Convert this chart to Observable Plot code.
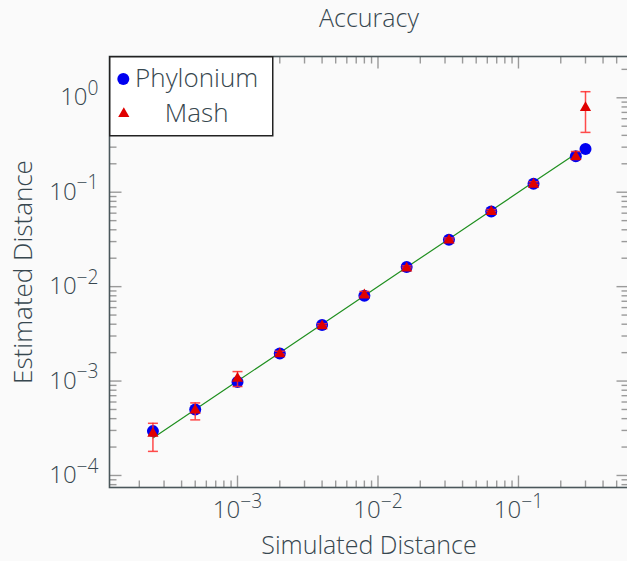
<!DOCTYPE html>
<html>
<head>
<meta charset="utf-8">
<script src="https://cdn.jsdelivr.net/npm/d3@7"></script>
<script src="https://cdn.jsdelivr.net/npm/@observablehq/plot@0.6"></script>
<style>
  html, body { margin: 0; padding: 0; background: #fafafa; overflow: hidden; }
  #wrap { position: relative; width: 627px; height: 561px; overflow: hidden; }
  #wrap > svg.chart { max-width: none !important; }
  #legend { position: absolute; left: 109px; top: 56px; }
</style>
</head>
<body>
<div id="wrap"></div>
<script>
// ---- data ----
const simulated = [0.00025, 0.0005, 0.001, 0.002, 0.004, 0.008, 0.016, 0.032, 0.064, 0.128, 0.256, 0.3];
const phylonium = [2.95e-4, 4.99e-4, 9.8e-4, 1.96e-3, 3.92e-3, 8.0e-3, 0.0161, 0.0313, 0.0625, 0.1227, 0.240, 0.287];
const mash      = [2.87e-4, 5.07e-4, 1.1e-3, 2.0e-3, 3.95e-3, 8.4e-3, 0.0162, 0.0320, 0.0640, 0.125, 0.245, 0.81];
const mashLow   = [1.80e-4, 3.88e-4, 8.75e-4, 1.93e-3, 3.85e-3, 7.9e-3, 0.0158, 0.0312, 0.0625, 0.121, 0.222, 0.43];
const mashHigh  = [3.57e-4, 5.87e-4, 1.26e-3, 2.07e-3, 4.05e-3, 8.9e-3, 0.0166, 0.0328, 0.0655, 0.129, 0.270, 1.16];
const diagonal  = [0.00025, 0.0005, 0.001, 0.002, 0.004, 0.008, 0.016, 0.032, 0.064, 0.128, 0.256];
const xTicks = [1e-3, 1e-2, 1e-1];
const xTickExp = ["\u22123", "\u22122", "\u22121"];
const yTicks = [1e-4, 1e-3, 1e-2, 1e-1, 1];
const yTickExp = ["\u22124", "\u22123", "\u22122", "\u22121", "0"];
const seriesNames = ["Phylonium", "Mash"];
const title = "Accuracy";
const xLabel = "Simulated Distance";
const yLabel = "Estimated Distance";

// ---- styling ----
const FONT = "'Open Sans', 'DejaVu Sans', sans-serif";
const TEXT = "#37474f";
const BLUE = "#0000f0";
const RED = "#e00000";
const ERR = "#ff2a2a";
const GREEN = "#1f8f1f";
const TICK = "#9a9a9a";
const SPINE = "#4b575b";

const xDomain = [1.227e-4, 0.607];
const yDomain = [7.46e-5, 2.737];

function minorTicks([lo, hi]) {
  const out = [];
  for (let e = Math.floor(Math.log10(lo)); e <= Math.ceil(Math.log10(hi)); e++)
    for (let m = 2; m <= 9; m++) { const v = m * 10 ** e; if (v > lo && v < hi) out.push(v); }
  return out;
}
const xMinor = minorTicks(xDomain);
const yMinor = minorTicks(yDomain);

const pts = simulated.map((s, i) => ({s, p: phylonium[i], m: mash[i], lo: mashLow[i], hi: mashHigh[i]}));
const xLab = xTicks.map((v, i) => ({v, t: "10|" + xTickExp[i]}));
const yLab = yTicks.map((v, i) => ({v, t: "10|" + yTickExp[i]}));

const seg = (dx, dy) => ({draw(c) { c.moveTo(0, 0); c.lineTo(dx, dy); }});
const capSym = {draw(c) { c.moveTo(-5, 0); c.lineTo(5, 0); }};
const triSym = {draw(c) { c.moveTo(0, -5.2); c.lineTo(5.6, 4.6); c.lineTo(-5.6, 4.6); c.closePath(); }};

const tickMarks = (vals, anchor, sym) =>
  Plot.dot(vals, {[anchor === "top" || anchor === "bottom" ? "x" : "y"]: d => d, frameAnchor: anchor, symbol: sym, stroke: TICK, strokeWidth: 1.4, fill: "none"});

const chart = Plot.plot({
  className: "chart",
  width: 640,
  height: 561,
  marginLeft: 109,
  marginRight: 12,
  marginTop: 56,
  marginBottom: 74,
  style: {background: "#fafafa", fontFamily: FONT, color: TEXT, overflow: "visible", maxWidth: "none"},
  x: {type: "log", domain: xDomain, axis: null},
  y: {type: "log", domain: yDomain, axis: null},
  marks: [
    tickMarks(xMinor, "bottom", seg(0, -7)),
    tickMarks(xTicks, "bottom", seg(0, -12)),
    tickMarks(xMinor, "top", seg(0, 7)),
    tickMarks(xTicks, "top", seg(0, 12)),
    tickMarks(yMinor, "left", seg(7, 0)),
    tickMarks(yTicks, "left", seg(12, 0)),
    tickMarks(yMinor, "right", seg(-7, 0)),
    tickMarks(yTicks, "right", seg(-12, 0)),
    Plot.frame({stroke: SPINE, strokeWidth: 1.6}),
    Plot.text(xLab, {x: "v", text: "t", frameAnchor: "bottom", lineAnchor: "middle", dy: 23, fontSize: 24, fill: TEXT, fontWeight: 300}),
    Plot.text(yLab, {y: "v", text: "t", frameAnchor: "left", lineAnchor: "middle", dx: -11, textAnchor: "end", fontSize: 24, fill: TEXT, fontWeight: 300}),
    Plot.text([xLabel], {text: d => d, frameAnchor: "bottom", lineAnchor: "middle", dy: 58, fontSize: 25, fill: TEXT, fontWeight: 300}),
    Plot.text([yLabel], {text: d => d, frameAnchor: "left", lineAnchor: "middle", textAnchor: "middle", dx: -86, rotate: -90, fontSize: 26, fill: TEXT, fontWeight: 300}),
    Plot.text([title], {text: d => d, frameAnchor: "top", lineAnchor: "middle", dy: -38, fontSize: 25, fill: TEXT, fontWeight: 300}),
    Plot.line(diagonal, {x: d => d, y: d => d, stroke: GREEN, strokeWidth: 1.2}),
    Plot.dot(pts, {x: "s", y: "p", r: 6, symbol: "circle", fill: BLUE, stroke: "none"}),
    Plot.ruleX(pts, {x: "s", y1: "lo", y2: "hi", stroke: ERR, strokeWidth: 1.5, strokeOpacity: 0.85}),
    Plot.dot(pts, {x: "s", y: "lo", symbol: capSym, stroke: ERR, strokeWidth: 1.5, strokeOpacity: 0.85, fill: "none"}),
    Plot.dot(pts, {x: "s", y: "hi", symbol: capSym, stroke: ERR, strokeWidth: 1.5, strokeOpacity: 0.85, fill: "none"}),
    Plot.dot(pts, {x: "s", y: "m", symbol: triSym, fill: RED, stroke: "none"})
  ]
});
chart.style.maxWidth = "none";
chart.style.width = "640px";
chart.style.height = "561px";

// superscript exponents on tick labels
d3.select(chart).selectAll("text").each(function () {
  const s = this.textContent;
  if (!s.includes("|")) return;
  const [base, exp] = s.split("|");
  const t = d3.select(this);
  t.text(null);
  t.append("tspan").text(base);
  t.append("tspan").attr("dy", "-0.55em").attr("font-size", "0.8em").text(exp);
});

const wrap = document.getElementById("wrap");
wrap.appendChild(chart);

// legend (upper-left, boxed)
const lg = d3.select(wrap).append("svg").attr("id", "legend").attr("width", 165).attr("height", 81);
lg.append("rect").attr("x", 0.75).attr("y", 0.75).attr("width", 163).attr("height", 79)
  .attr("fill", "#ffffff").attr("stroke", "#222").attr("stroke-width", 1.5);
lg.append("circle").attr("cx", 14.3).attr("cy", 23).attr("r", 6).attr("fill", BLUE);
lg.append("path").attr("d", "M14.8,51.3L20.4,61.1L9.2,61.1Z").attr("fill", RED);
[[seriesNames[0], 30.7], [seriesNames[1], 65.7]].forEach(([t, y]) => {
  lg.append("text").attr("x", 87.7).attr("y", y).attr("text-anchor", "middle")
    .attr("font-family", FONT).attr("font-size", 26).attr("font-weight", 300).attr("fill", TEXT).text(t);
});
</script>
</body>
</html>
